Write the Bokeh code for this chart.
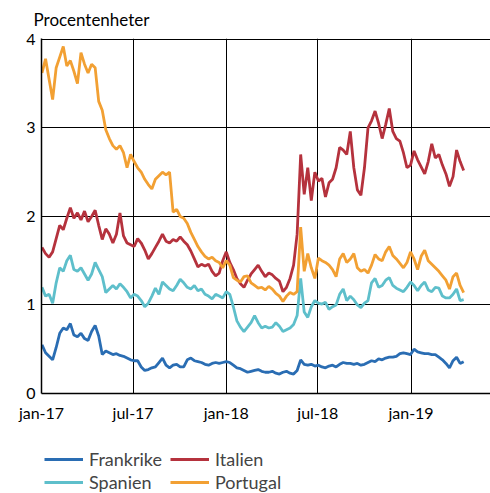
import pandas as pd
from bokeh.plotting import figure
from bokeh.layouts import column
from bokeh.models import Range1d, FixedTicker, Legend, LegendItem
from bokeh.embed import file_html
from bokeh.resources import INLINE

start_date = "2017-01-02"

frankrike = [0.55, 0.46, 0.42, 0.38, 0.52, 0.68, 0.74, 0.72, 0.79, 0.66,
             0.64, 0.68, 0.62, 0.60, 0.70, 0.77, 0.65, 0.44, 0.48, 0.46,
             0.44, 0.45, 0.43, 0.42, 0.40, 0.38, 0.37, 0.37, 0.30, 0.26,
             0.27, 0.29, 0.30, 0.35, 0.40, 0.32, 0.29, 0.32, 0.33, 0.30,
             0.30, 0.38, 0.40, 0.37, 0.36, 0.35, 0.33, 0.32, 0.34, 0.35,
             0.34, 0.35, 0.36, 0.35, 0.32, 0.29, 0.28, 0.26, 0.24, 0.25,
             0.26, 0.27, 0.25, 0.24, 0.24, 0.25, 0.23, 0.22, 0.24, 0.25,
             0.23, 0.22, 0.26, 0.38, 0.33, 0.32, 0.33, 0.31, 0.32, 0.30,
             0.29, 0.31, 0.32, 0.30, 0.33, 0.35, 0.34, 0.34, 0.33, 0.34,
             0.32, 0.33, 0.35, 0.37, 0.36, 0.39, 0.38, 0.40, 0.41, 0.41,
             0.42, 0.45, 0.46, 0.45, 0.44, 0.50, 0.47, 0.46, 0.45, 0.45,
             0.44, 0.44, 0.41, 0.38, 0.34, 0.29, 0.37, 0.41, 0.34, 0.36]

italien = [1.65, 1.58, 1.54, 1.60, 1.75, 1.90, 1.85, 1.98, 2.10, 1.98,
           2.04, 1.96, 2.06, 1.94, 2.00, 2.07, 1.90, 1.74, 1.86, 1.80,
           1.70, 1.80, 2.04, 1.78, 1.70, 1.68, 1.66, 1.75, 1.70, 1.62,
           1.52, 1.58, 1.65, 1.72, 1.80, 1.72, 1.70, 1.74, 1.72, 1.77,
           1.72, 1.68, 1.61, 1.52, 1.43, 1.46, 1.44, 1.46, 1.38, 1.33,
           1.36, 1.50, 1.60, 1.48, 1.40, 1.30, 1.24, 1.20, 1.28, 1.35,
           1.40, 1.45, 1.38, 1.32, 1.36, 1.34, 1.30, 1.27, 1.15, 1.20,
           1.30, 1.45, 1.80, 2.70, 2.25, 2.55, 2.18, 2.50, 2.40, 2.43,
           2.22, 2.38, 2.42, 2.55, 2.78, 2.75, 2.70, 2.96, 2.55, 2.30,
           2.24, 2.55, 3.00, 3.08, 3.19, 3.05, 2.88, 3.04, 3.22, 2.96,
           2.88, 2.85, 2.72, 2.55, 2.58, 2.74, 2.64, 2.56, 2.48, 2.62,
           2.82, 2.66, 2.70, 2.58, 2.48, 2.34, 2.45, 2.75, 2.62, 2.52]

spanien = [1.20, 1.10, 1.12, 1.02, 1.25, 1.42, 1.38, 1.50, 1.56, 1.40,
           1.38, 1.42, 1.35, 1.28, 1.35, 1.48, 1.40, 1.32, 1.14, 1.18,
           1.22, 1.18, 1.24, 1.20, 1.15, 1.08, 1.12, 1.10, 1.05, 0.98,
           1.02, 1.10, 1.19, 1.12, 1.26, 1.22, 1.18, 1.16, 1.22, 1.29,
           1.25, 1.20, 1.18, 1.22, 1.16, 1.18, 1.12, 1.10, 1.07, 1.12,
           1.10, 1.08, 1.15, 1.12, 0.98, 0.82, 0.75, 0.70, 0.75, 0.80,
           0.88, 0.80, 0.74, 0.76, 0.74, 0.75, 0.80, 0.76, 0.70, 0.72,
           0.74, 0.78, 0.88, 1.30, 0.92, 0.86, 0.98, 1.05, 1.02, 1.01,
           1.03, 0.95, 0.98, 1.00, 1.12, 1.18, 1.05, 1.10, 1.06, 1.00,
           0.97, 1.02, 1.05, 1.25, 1.30, 1.20, 1.22, 1.28, 1.31, 1.22,
           1.19, 1.17, 1.15, 1.20, 1.26, 1.22, 1.16, 1.22, 1.26, 1.17,
           1.15, 1.20, 1.19, 1.10, 1.08, 1.08, 1.12, 1.18, 1.05, 1.06]

portugal = [3.62, 3.78, 3.55, 3.32, 3.68, 3.80, 3.92, 3.70, 3.76, 3.64,
            3.50, 3.85, 3.72, 3.62, 3.72, 3.68, 3.30, 3.20, 2.98, 2.88,
            2.80, 2.76, 2.80, 2.72, 2.55, 2.70, 2.62, 2.55, 2.50, 2.42,
            2.36, 2.31, 2.42, 2.46, 2.50, 2.47, 2.50, 2.05, 2.08, 2.00,
            1.98, 1.92, 1.82, 1.74, 1.66, 1.60, 1.55, 1.52, 1.54, 1.50,
            1.48, 1.42, 1.50, 1.45, 1.31, 1.28, 1.26, 1.32, 1.33, 1.25,
            1.22, 1.19, 1.20, 1.17, 1.21, 1.18, 1.13, 1.10, 1.04, 1.10,
            1.14, 1.12, 1.15, 1.88, 1.38, 1.58, 1.42, 1.30, 1.53, 1.50,
            1.48, 1.45, 1.40, 1.32, 1.52, 1.58, 1.48, 1.52, 1.58, 1.42,
            1.38, 1.40, 1.36, 1.45, 1.57, 1.52, 1.50, 1.60, 1.66, 1.56,
            1.52, 1.47, 1.42, 1.48, 1.60, 1.52, 1.40, 1.55, 1.62, 1.50,
            1.46, 1.42, 1.38, 1.33, 1.28, 1.18, 1.32, 1.36, 1.22, 1.14]

series_names = ["Frankrike", "Italien", "Spanien", "Portugal"]
series_colors = ["#2A6DB3", "#B5323D", "#5EBFCB", "#F2A033"]

tick_dates = ["2017-01-01", "2017-07-01", "2018-01-01", "2018-07-01", "2019-01-01"]
tick_labels = ["jan-17", "jul-17", "jan-18", "jul-18", "jan-19"]
y_ticks = [0, 1, 2, 3, 4]

FONT = "Lato"
FSIZE = "16px"
TSIZE = "17px"
LSIZE = "18px"
LW = 2.8

dates = pd.date_range(start=start_date, periods=len(frankrike), freq="7D")

x_start = pd.Timestamp("2017-01-01")
x_end = pd.Timestamp("2019-06-07")

p = figure(width=490, height=430, x_axis_type="datetime",
           output_backend="svg", toolbar_location=None,
           x_range=Range1d(x_start, x_end), y_range=Range1d(0, 4.01),
           min_border_left=41, min_border_right=0, min_border_top=38,
           min_border_bottom=37)

p.outline_line_color = None
p.background_fill_color = "white"
p.border_fill_color = "white"

for vals, col in zip([frankrike, italien, spanien, portugal], series_colors):
    p.line(dates, vals, line_color=col, line_width=LW)

tick_ms = [pd.Timestamp(d).value // 10**6 for d in tick_dates]
p.xaxis.ticker = FixedTicker(ticks=tick_ms)
p.xaxis.major_label_overrides = {t: l for t, l in zip(tick_ms, tick_labels)}
p.yaxis.ticker = FixedTicker(ticks=y_ticks)

for ax in [p.xaxis, p.yaxis]:
    ax.major_tick_line_color = None
    ax.minor_tick_line_color = None
    ax.axis_line_color = "black"
    ax.axis_line_width = 1.5
    ax.major_label_text_font = FONT
    ax.major_label_text_font_size = FSIZE
    ax.major_label_text_color = "black"
p.xaxis.major_label_standoff = 3
p.yaxis.major_label_standoff = 0

p.xgrid.grid_line_color = "black"
p.xgrid.grid_line_width = 1
p.ygrid.grid_line_color = "black"
p.ygrid.grid_line_width = 1

p.title.text = "Procentenheter"
p.title.text_font = FONT
p.title.text_font_size = TSIZE
p.title.text_font_style = "normal"
p.title.text_color = "black"
p.title.align = "left"
p.title.vertical_align = "top"
p.title.offset = -8
p.title.standoff = 14

# Legend panel below the chart
lg = figure(width=490, height=63, output_backend="svg", toolbar_location=None,
            x_range=Range1d(0, 1), y_range=Range1d(0, 1),
            x_axis_location=None, y_axis_location=None,
            min_border=0)
lg.outline_line_color = None
lg.grid.visible = False
items = []
for name, col in zip(series_names, series_colors):
    r = lg.line(x=[0, 1], y=[-5, -5], line_color=col, line_width=LW)
    items.append(LegendItem(label=name, renderers=[r]))

legend = Legend(items=items, orientation="horizontal", ncols=2,
                label_text_font=FONT, label_text_font_size=LSIZE,
                glyph_width=39, glyph_height=18, label_height=18,
                label_width=80,
                label_standoff=6, spacing=1, padding=0, margin=0,
                border_line_color=None, background_fill_alpha=0,
                location=(3, 0))
lg.add_layout(legend, "center")

layout = column(p, lg, spacing=0)
open("out.html", "w").write(file_html(layout, INLINE))
